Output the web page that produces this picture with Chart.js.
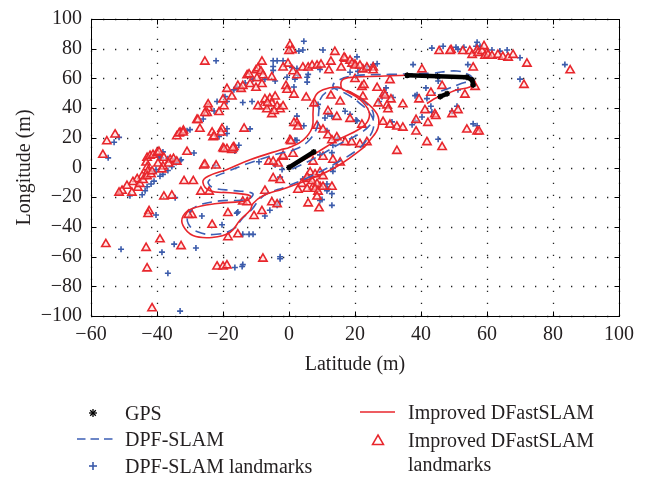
<!DOCTYPE html>
<html>
<head>
<meta charset="utf-8">
<script src="https://cdn.jsdelivr.net/npm/chart.js@4.4.0/dist/chart.umd.min.js"></script>
<style>
body{margin:0;background:#fff;}
#wrap{position:relative;width:653px;height:479px;font-family:"Liberation Serif","Times New Roman",serif;color:#231f20;}
canvas{position:absolute;left:0;top:0;}
.lg{position:absolute;font-size:20px;line-height:26px;white-space:nowrap;}
.sym{position:absolute;overflow:visible;}
</style>
</head>
<body>
<div id="wrap">
<canvas id="myChart" width="653" height="479"></canvas>

<svg class="sym" style="left:86px;top:406px" width="14" height="14">
  <g stroke="#000" stroke-width="1.3"><line x1="7" y1="3" x2="7" y2="11"/><line x1="3" y1="7" x2="11" y2="7"/><line x1="4.2" y1="4.2" x2="9.8" y2="9.8"/><line x1="9.8" y1="4.2" x2="4.2" y2="9.8"/></g>
</svg>
<div class="lg" style="left:125px;top:400px">GPS</div>

<svg class="sym" style="left:75px;top:434px" width="40" height="10">
  <line x1="2" y1="5" x2="38" y2="5" stroke="#3d5fb5" stroke-width="1.5" stroke-dasharray="8.5,5"/>
</svg>
<div class="lg" style="left:125px;top:426px">DPF-SLAM</div>

<svg class="sym" style="left:87px;top:460px" width="12" height="12">
  <g stroke="#3b5bab" stroke-width="1.6"><line x1="6" y1="2" x2="6" y2="10"/><line x1="2" y1="6" x2="10" y2="6"/></g>
</svg>
<div class="lg" style="left:125px;top:453px">DPF-SLAM landmarks</div>

<svg class="sym" style="left:358px;top:407px" width="40" height="10">
  <line x1="2" y1="5" x2="37" y2="5" stroke="#e8262c" stroke-width="1.5"/>
</svg>
<div class="lg" style="left:408px;top:399px">Improved DFastSLAM</div>

<svg class="sym" style="left:371px;top:433px" width="14" height="14">
  <polygon points="7,2 12.5,11.5 1.5,11.5" fill="none" stroke="#e8262c" stroke-width="1.5"/>
</svg>
<div class="lg" style="left:408px;top:427px">Improved DFastSLAM</div>
<div class="lg" style="left:408px;top:451px">landmarks</div>
</div>

<script>
// tick values
var xTicks = [-60, -40, -20, 0, 20, 40, 60, 80, 100];
var yTicks = [-100, -80, -60, -40, -20, 0, 20, 40, 60, 80, 100];

// GPS fixes (three short pieces)
var gpsSegments = [
  [[0, 0], [7.5, 10.5]],
  [[35.8, 62.1], [45, 61.5], [53.9, 60.8], [55.5, 59], [55.8, 55.6]],
  [[45.8, 47.7], [47.9, 49.7]]
];

// Improved DFastSLAM trajectory
var improvedPath = [
  [0, 0], [7.3, 8.5], [14.5, 18.3], [21.5, 26.1], [23.9, 31.4], [24.2, 37.9], [21.5, 45.8], [17.6, 51], [14.8, 54.2],
  [10.3, 52.3], [7.9, 47.7], [7.3, 37.9], [7, 26.8], [4.2, 18.3], [0.3, 13.7], [-2.7, 11.8], [-11.8, 5.2], [-18.8, -1.3],
  [-24.5, -5.9], [-26.1, -9.8], [-23.9, -15.7], [-17.9, -17], [-11.8, -19], [-12.7, -22.2], [-21.8, -24.2], [-29.1, -27.5],
  [-32.1, -32.7], [-32.1, -39.2], [-29.1, -45.8], [-23.3, -47.1], [-17.9, -43.8], [-14.8, -35.3], [-11.8, -28.8], [-10.9, -24.2],
  [-7.9, -19], [-1.8, -14.4], [6.4, -7.8], [14.5, 0.7], [22.4, 13.1], [24.5, 18.3], [27, 26.8], [26.7, 35.9], [22.4, 45.8],
  [18.5, 51], [16.1, 52.9], [16.1, 58.8], [19.4, 60.8], [27.6, 61.4], [35.8, 62.1], [44.8, 61.4], [53.9, 60.8], [56.4, 57.5],
  [54.8, 54.2], [50.9, 52.3], [47.9, 49.7], [44.8, 47.1], [41.8, 43.1]
];

// DPF-SLAM trajectory
var dpfPath = [
  [1, -1], [8, 6.5], [15, 15.5], [21.5, 23], [25, 30], [25.5, 37], [23, 44], [19, 50], [15, 53.5],
  [11.5, 51], [9.5, 46], [9, 37], [8.5, 27], [5.5, 17], [1, 11.5], [-3, 9.5], [-12, 3], [-19, -3], [-23.5, -7.5],
  [-24.5, -10.5], [-22.5, -14], [-17, -15.5], [-11, -17.5], [-12.5, -21.5], [-21, -22.5], [-28, -26], [-30.5, -31.5],
  [-30.5, -38], [-27.5, -43.5], [-22, -45], [-17, -41.5], [-14, -34], [-11, -27.5], [-9.5, -23], [-7, -18], [-1, -13],
  [6, -6.5], [13.5, 2], [20.5, 11.5], [23, 17], [25.5, 26], [25, 35], [21, 44], [17, 50], [13.5, 54], [14, 57.5],
  [19, 61.5], [30.6, 62.7], [42.7, 63.4], [50.9, 65], [54.8, 62.1], [55.5, 59.5], [51.8, 56.2], [47.9, 52.9], [44, 50]
];

// Improved DFastSLAM landmarks
var improvedLandmarks = [
  [-52.7,22.2],[-55.2,17.6],[-56.4,8.5],[-24.5,40],[-27.9,32],[-30.9,10.5],[-33,23.5],[-34,21],[-32,24.8],[-20.3,26],
  [-20.6,23.5],[-20,13],[-18.8,12.4],[-43,6.5],[-42.1,7.8],[-41.2,8.5],[-40,9.8],[-39.4,10.5],[-43.3,3.3],[-43,0],
  [-42.8,-2.6],[-37.9,6.5],[-36,5.2],[-35,5.8],[-34,3.9],[-39.7,2.6],[-38.2,0.7],[-38.5,-1.3],[-44.5,-5.9],[-46,-7.8],
  [-47.3,-9.8],[-49.1,-12.4],[-50.6,-15.7],[-51.5,-17],[-47.6,-17],[-45.8,-13.7],[-45.2,-11.1],[-44.2,-8.5],[-43,-5.9],
  [-41.8,-4.6],[-41.5,-2.6],[-25.8,1.3],[-22.1,1.3],[-31.8,-9.2],[-29,-9.2],[-26.7,-16.3],[-24.2,-16.3],[-37.9,-19.6],
  [-35.5,-19],[-42.4,-29.4],[-42.7,-31.4],[-29.4,-32],[-23.3,-38.6],[-18.5,-47],[-55.5,-51.6],[-43.3,-54.2],[-39.1,-48.4],
  [-32.7,-53],[-43,-68],[-21.8,-66.7],[-20,-66.7],[-18.8,-66],[-41.5,-94.8],
  [-4.8,-7.2],[-2.7,-8.5],[-7.3,-15.7],[-14,-23],[-12.7,-23.5],[-5.2,-23.5],[-3.6,-24.8],[-8.2,-29.4],[-10.6,-32.7],
  [-18.5,-30.7],[-15.5,-45],[-7.9,-61.4],[-30.5,-32],[5.8,-24.2],[9.1,-27.5],[3.9,-11.1],[5.5,-7.8],[7.3,-13],[9.4,-13],
  [6.4,-3.3],[7.9,-4.6],[9.4,-3.3],[10.3,-5.9],[5.5,-6.5],[7,-9.2],[8.5,-11.1],[2.7,-15],[5.5,-14.4],[7.9,-14.4],
  [8.8,-16.3],[8.5,-19.6],[10.3,-13],[13,-13],
  [1.2,9.2],[-1.8,7.2],[-6.1,3.9],[-3.3,2.6],[0.3,18.3],[2.4,30],[8.5,28],[10.3,25.5],[11.8,21.6],[14.5,20.3],[13,18.3],
  [17,17],[19,17],[21.5,15.7],[10.3,7.2],[13.3,5.2],[15.5,3.3],[7.3,3.9],
  [-27,26],[-23.3,23.5],[-23,20.3],[-13.6,26.1],[-19.7,12.4],[-17.3,11.8],[-16.7,13.7],[-27.6,32],
  [0.3,82.4],[0.9,79],[0,78.4],[-25.5,71.2],[-8.2,71.2],[-0.3,69.9],[-1.8,67.3],[1.2,64.7],[2.4,62.1],[4.2,67.3],
  [5.8,67.3],[7,68.6],[8.5,68.6],[9.7,69.3],[12.7,71.2],[13.9,77.8],[12.1,65.4],[15.8,67.3],[17,73.2],[20,69.3],
  [-12.7,62.1],[-12.1,62.7],[-10,65.4],[-9.4,66.7],[-8.5,64.7],[-7.9,62.1],[-9.7,60.1],[-11.8,56.2],[-10,53.6],[-8.2,56.2],
  [-5.2,60.8],[-15.5,54.9],[-14.5,52.9],[-14,54.9],[-18.8,52.9],[-17.3,47.7],[-24.5,42.5],[-24.8,36.6],[-25.5,36.6],
  [-20,45.8],[-19.7,41.2],[-21.2,37.3],[-0.9,54.9],[-0.6,52.3],[1.5,49],[1.5,30],[2.7,27.5],[5.2,47.1],[7.6,43.1],
  [11.8,37.9],[14.5,34],[12.7,48.4],[15.5,44.4],[18.5,32.7],
  [-7.3,45.8],[-5.8,46.4],[-5.2,43.1],[-4.2,47.7],[-3.6,41.2],[-2.7,39.2],[-1.8,41.2],[-7.9,41.2],[-6.7,39.2],[-5.2,35.9],
  [-9.4,41.2],[-6.5,43.5],[-4.5,38],
  [-22.7,20.9],[-17,13.1],[-25.5,2],[-4.8,3.9],[-1.8,7.8],[0.6,17.6],[-33.3,22.9],[-32.1,23.5],[-36.5,2.6],
  [45.5,78.4],[49.1,79.1],[48.8,78.4],[52.7,78.4],[54.8,78.4],[55.5,75.8],[57,79.1],[57.3,77.1],[58.5,78.4],[59.1,81.7],
  [60,77.1],[59.4,75.2],[60.3,75.8],[61.5,75.2],[63.3,75.8],[64.8,74.5],[66.4,73.9],[67.9,75.8],[72.1,69.9],[85.2,65.4],
  [71.2,55.6],[55.8,67.3],[56.4,54.2],[40.3,66],[46.4,54.9],[43,50.3],[39.4,45.8],[41.2,38.6],[44.2,35.9],[44.5,34.6],
  [49.4,35.9],[51.2,38.6],[53.3,49],[34.5,42.5],[38.5,32],[42.1,30],[32.7,27.5],[34.5,26.8],[38.5,24.2],[53.9,25.5],
  [57,24.2],[57.6,24.2],[41.8,17],[46.4,13.7],[32.7,11.1],[26.7,53.6],[28.8,49.7],[29.1,48.4],[30.9,45.8],[29.7,41.8],
  [30,39.2],[27,43.1],[28.5,30.7],[30.6,28.8],[22.1,28.8],[23.6,17],[22.4,47.7],[22.1,54.2],[22.7,55.6],[20,59.5],
  [22.4,66],[23.6,67.3],[25.5,67.3],[25.5,65.4],[30.6,58.8],[16.7,73.9],[18.5,71.9],[19.1,69.9],[20,68.6],[21.5,68.6]
];

// DPF-SLAM landmarks
var dpfLandmarks = [
  [-51.5,20.3],[-53,17],[-54.8,6.5],[-26,32.7],[-22.7,38],[-30,25.5],[-28.8,9.8],[-38.2,10.5],[-39.4,7.2],[-40.3,-1.3],
  [-40.9,-3.3],[-39.1,-5.9],[-38.2,-4.6],[-36.7,-2],[-35.5,0.6],[-34.2,3.3],[-32.7,5.2],[-40.9,-9.2],[-41.8,-11.1],
  [-43,-13],[-43.6,-15.7],[-44.5,-18.3],[-48.2,-19],[-40.3,-32],[-34.5,-20.3],[-50.9,-55],[-38.5,-57],[-34.8,-51.6],
  [-28.2,-54.2],[-36.7,-71.2],[-33,-96.7],[-21.2,20.9],[-26.4,-32.7],
  [-2.7,-60.1],[-2.7,-61.4],[-14,-65.4],[-14.2,-66.7],[-16.4,-67.3],[-14,-45],[-12.1,-45],[-10.9,-45],[-20.3,-38.6],
  [-15.8,-30.7],[-5.8,-28.8],[-2.7,-22.9],[13,-25.5],[11.5,-11.1],[11.8,-14.4],[13,-17.6],[10,-21.6],[-4.2,1.8],
  [4.5,28.1],[2.4,18.3],[11.5,24.8],[13.3,-0.6],[13.3,-2.6],[11.5,-15.7],[9.4,-22.2],[8.2,-12.4],[4.2,-7.8],[-2.7,-6.5],
  [-3.6,-25.5],[-7.3,-32.7],[-15.5,-30],[-18.8,22.9],[-11.8,26],[-16.4,11.1],[-22.4,1.3],[-33,4.6],[20.3,32],
  [4.5,85],[3,78.4],[4.2,79.1],[10.3,79.1],[-22.1,71.9],[-4.8,71.9],[-3.6,71.9],[-1.8,71.9],[-4.8,68],[-4.8,65.4],
  [0.9,67.3],[2.4,66.7],[2.7,62.1],[1.8,59.5],[5.5,60.8],[5.5,57.5],[9.4,66],[-15.8,54.2],[-16.7,52.3],[-13.3,56.9],
  [-10.9,59.5],[-7.3,59.5],[-4.2,58.2],[1.5,54.2],[-14,43.8],[-11.2,44.4],[-19.4,47.7],[-18.8,44.4],[-21.8,44.4],
  [-30.9,24.8],[-18.8,26.1],[2.4,34.6],[8.8,42.5],[10.9,33.3],[13,34.6],[18.5,35.9],[14.8,19.6],[-15.2,15],[-36.7,5.9],
  [-34.8,4.6],[-38.8,6.5],[-9.1,3.9],[-2.1,-1.3],
  [43.3,80.4],[46.7,81.7],[50.6,81],[51.2,79.7],[53,81],[57,84.3],[56.7,81.7],[57.9,81.7],[61.5,79.1],[63.9,78.4],
  [66.1,79.1],[70,73.9],[83.6,69.3],[70,59.5],[54.2,69.3],[37.6,69.3],[41.5,53.6],[45.2,58.2],[51.2,52.3],[38.2,48.4],
  [43,41.2],[40.3,34],[43.3,37.3],[49.4,37.9],[50.9,41.2],[55.8,29.4],[57,28.1],[45.2,19],[31.2,30.7],[37.3,28.8],
  [29.4,53.6],[29.1,50.3],[27.3,44.4],[28.2,47.7],[31.5,47.1],[20.6,74.5],[19.3,71.5],[18.5,64.1],[20.9,64.7],[25.5,69.3],
  [26.7,69.9],[23.6,68],[38.8,49],[41.8,46.4],[38.2,31.4],[20.6,31.4],[11.8,36],[17,37.9],[13.3,15],[13,10],[9.4,8.5],
  [1.8,18.3],[-0.6,60.8],[5.8,62.7],[24.5,66]
];

function pts(arr) {
  return arr.map(function (p) { return { x: p[0], y: p[1] }; });
}

var RED = '#e8262c';
var BLUE = '#3b5bab';
var FONT = '"Liberation Serif", "Times New Roman", serif';
Chart.defaults.font.family = FONT;
Chart.defaults.color = '#231f20';

// box round the axes, dotted grid and ticks pointing inwards, like matlab
var frame = {
  id: 'frame',
  beforeDatasetsDraw: function (chart) {
    var ctx = chart.ctx, a = chart.chartArea, xs = chart.scales.x, ys = chart.scales.y;
    ctx.save();
    ctx.strokeStyle = '#222';
    ctx.lineWidth = 1.3;
    ctx.setLineDash([1.3, 10.7]);
    ctx.beginPath();
    xTicks.forEach(function (v) {
      var px = Math.round(xs.getPixelForValue(v)) + 0.5;
      ctx.moveTo(px, a.bottom); ctx.lineTo(px, a.top);
    });
    yTicks.forEach(function (v) {
      var py = Math.round(ys.getPixelForValue(v)) + 0.5;
      ctx.moveTo(a.left, py); ctx.lineTo(a.right, py);
    });
    ctx.stroke();
    ctx.restore();
  },
  afterDraw: function (chart) {
    var ctx = chart.ctx, a = chart.chartArea, xs = chart.scales.x, ys = chart.scales.y;
    var L = Math.round(a.left) + 0.5, R = Math.round(a.right) + 0.5;
    var T = Math.round(a.top) + 0.5, B = Math.round(a.bottom) + 0.5;
    ctx.save();
    ctx.strokeStyle = '#000';
    ctx.lineWidth = 1;
    ctx.strokeRect(L, T, R - L, B - T);
    ctx.beginPath();
    xTicks.forEach(function (v) {
      var px = Math.round(xs.getPixelForValue(v)) + 0.5;
      ctx.moveTo(px, B); ctx.lineTo(px, B - 5);
      ctx.moveTo(px, T); ctx.lineTo(px, T + 5);
    });
    yTicks.forEach(function (v) {
      var py = Math.round(ys.getPixelForValue(v)) + 0.5;
      ctx.moveTo(L, py); ctx.lineTo(L + 5, py);
      ctx.moveTo(R, py); ctx.lineTo(R - 5, py);
    });
    ctx.stroke();
    ctx.restore();
  }
};

// order: smaller number is drawn on top
var datasets = [];
datasets.push({
  data: pts(dpfLandmarks), order: 5, pointStyle: 'cross', pointRadius: 3, pointBorderColor: BLUE,
  pointBorderWidth: 1.6, showLine: false
});
datasets.push({
  data: pts(improvedLandmarks), order: 4, pointStyle: 'triangle', pointRadius: 4.8, pointBorderColor: RED,
  pointBackgroundColor: 'rgba(255,215,215,0.55)', pointBorderWidth: 1.6, showLine: false
});
datasets.push({
  data: pts(dpfPath), order: 3, showLine: true, borderColor: '#3d5fb5', borderWidth: 1.6, borderDash: [10, 6],
  pointRadius: 0, tension: 0.4
});
datasets.push({
  data: pts(improvedPath), order: 2, showLine: true, borderColor: RED, borderWidth: 1.6,
  pointRadius: 0, tension: 0.4
});
gpsSegments.forEach(function (seg) {
  datasets.push({
    data: pts(seg), order: 1, showLine: true, borderColor: '#000', borderWidth: 4.5, borderDash: [],
    borderCapStyle: 'round', borderJoinStyle: 'round', pointStyle: 'star', pointRadius: 3,
    pointBorderColor: '#000', pointBackgroundColor: '#000', pointBorderWidth: 1.4, tension: 0
  });
});

function minus(v) { return v < 0 ? '\u2212' + Math.abs(v) : '' + v; }

var ctx = document.getElementById('myChart').getContext('2d');
var myChart = new Chart(ctx, {
  type: 'scatter',
  data: { datasets: datasets },
  options: {
    responsive: false,
    animation: false,
    layout: { padding: { left: 0, top: 10, right: 34, bottom: 99 } },
    plugins: { legend: { display: false }, tooltip: { enabled: false } },
    scales: {
      x: {
        type: 'linear', min: -60, max: 100,
        afterBuildTicks: function (s) { s.ticks = xTicks.map(function (v) { return { value: v }; }); },
        afterFit: function (s) { s.height = 64; },
        ticks: { font: { size: 20, lineHeight: 1 }, padding: 9, callback: minus, maxRotation: 0 },
        grid: { display: false, drawTicks: false },
        border: { display: false },
        title: { display: true, text: 'Latitude (m)', font: { size: 20 }, padding: { top: 0, bottom: 3 } }
      },
      y: {
        type: 'linear', min: -100, max: 100,
        afterBuildTicks: function (s) { s.ticks = yTicks.map(function (v) { return { value: v }; }); },
        afterFit: function (s) { s.width = 91; },
        ticks: { font: { size: 20, lineHeight: 1 }, padding: 9, callback: minus },
        grid: { display: false, drawTicks: false },
        border: { display: false },
        title: { display: true, text: 'Longitude (m)', font: { size: 20 }, padding: { top: 13, bottom: 0 } }
      }
    }
  },
  plugins: [frame]
});
</script>
</body>
</html>
